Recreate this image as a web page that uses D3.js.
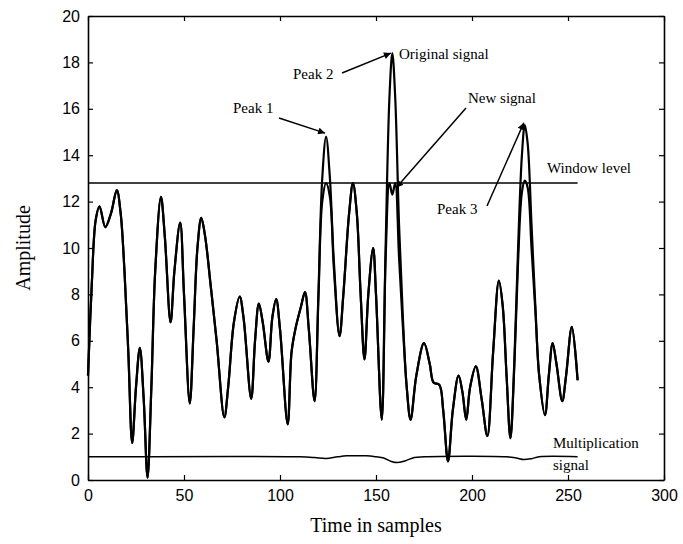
<!DOCTYPE html>
<html>
<head>
<meta charset="utf-8">
<script src="https://cdn.jsdelivr.net/npm/d3@7"></script>
<style>
  html, body { margin: 0; padding: 0; background: #fff; }
  svg { display: block; }
</style>
</head>
<body>
<svg id="chart" width="683" height="544"></svg>
<script>
// ---- data ----
const sampleT = [0,2,4,6,9,12,15,17,19,21,23,25,27,29,31,33,35,38,40,43,45,48,50,53,55,57,59,61,64,67,71,73,76,79,81,85,87,89,91,94,96,98,100,104,106,108,111,113,115,118,120,122,124,126,128,131,133,136,138,140,142,144,146,148.5,150,153,155,157,158.5,160,162,164,166,168,171,175,178,180,183,185,187.5,190,193,195,197,199,202,205,208,211,214,216,218,220,222,224,226,227.5,229,231,233,235,238,240,242,244,247,249,252,255];
const originalSignal = [4.5,8.5,11.2,11.8,10.9,11.5,12.5,11.5,9.0,5.5,1.6,4.0,5.7,3.5,0.1,4.0,9.0,12.2,10.5,6.8,9.0,11.1,8.0,3.3,6.5,10.0,11.3,10.5,8.3,6.0,2.7,4.0,6.8,7.9,7.0,3.5,6.0,7.6,6.8,5.1,7.0,7.8,6.5,2.4,5.5,6.5,7.5,8.1,6.5,3.4,8.0,13.0,14.8,13.0,9.5,6.2,8.0,11.5,12.8,11.5,8.0,5.2,8.0,10.0,8.0,2.6,10.0,16.5,18.4,16.5,11.0,7.0,4.0,2.6,4.5,5.9,5.0,4.2,4.1,3.0,0.8,3.0,4.5,3.8,2.6,4.0,4.9,3.5,1.9,5.5,8.6,7.5,4.5,1.8,5.0,10.0,14.0,15.3,14.5,11.0,7.5,4.5,2.8,4.5,5.9,5.0,3.4,4.5,6.6,4.3];
const newSignal = [4.5,8.5,11.2,11.8,10.9,11.5,12.5,11.5,9.0,5.5,1.6,4.0,5.7,3.5,0.1,4.0,9.0,12.2,10.5,6.8,9.0,11.1,8.0,3.3,6.5,10.0,11.3,10.5,8.3,6.0,2.7,4.0,6.8,7.9,7.0,3.5,6.0,7.6,6.8,5.1,7.0,7.8,6.5,2.4,5.5,6.5,7.5,8.1,6.5,3.4,7.8,12.0,12.8,12.2,9.2,6.2,8.0,11.5,12.8,11.5,8.0,5.2,8.0,10.0,8.0,2.6,9.5,12.8,12.3,12.8,9.6,6.6,4.0,2.6,4.5,5.9,5.0,4.2,4.1,3.0,0.8,3.0,4.5,3.8,2.6,4.0,4.9,3.5,1.9,5.5,8.6,7.5,4.5,1.8,4.8,9.4,12.4,12.9,12.6,10.0,7.3,4.5,2.8,4.5,5.9,5.0,3.4,4.5,6.6,4.3];
const multT = [0,110,118,124,130,135,145,150,154,158,161,165,170,175,218,223,227,231,235,255];
const multSignal = [1.0,1.0,0.97,0.93,1.0,1.04,1.04,1.0,0.95,0.8,0.75,0.82,0.97,1.0,1.0,0.95,0.88,0.92,1.0,1.0];
const windowT = [0,255];
const windowLevel = [12.8,12.8];
const xTicks = [0,50,100,150,200,250,300];
const yTicks = [0,2,4,6,8,10,12,14,16,18,20];

// ---- layout ----
const svg = d3.select("#chart");
const x = d3.scaleLinear().domain([0,300]).range([88,664]);
const y = d3.scaleLinear().domain([0,20]).range([480,16]);
const serif = "'Liberation Serif','Times New Roman',serif";
const sans = "'Liberation Sans',Arial,Helvetica,sans-serif";

svg.append("defs").append("marker")
  .attr("id","arr").attr("viewBox","0 0 10 10").attr("refX",10).attr("refY",5)
  .attr("markerWidth",9).attr("markerHeight",7).attr("orient","auto")
  .attr("markerUnits","userSpaceOnUse")
  .append("path").attr("d","M0,0 L10,5 L0,10 z").attr("fill","#000");

// axes (inward ticks on all four sides)
const axB = svg.append("g").attr("transform","translate(0,480)")
  .call(d3.axisBottom(x).tickValues(xTicks).tickSizeInner(-5).tickSizeOuter(0).tickPadding(10));
const axL = svg.append("g").attr("transform","translate(88,0)")
  .call(d3.axisLeft(y).tickValues(yTicks).tickSizeInner(-5).tickSizeOuter(0).tickPadding(8));
const axT = svg.append("g").attr("transform","translate(0,16)")
  .call(d3.axisTop(x).tickValues(xTicks).tickSizeInner(-5).tickSizeOuter(0).tickFormat(""));
const axR = svg.append("g").attr("transform","translate(664,0)")
  .call(d3.axisRight(y).tickValues(yTicks).tickSizeInner(-5).tickSizeOuter(0).tickFormat(""));
[axB,axL,axT,axR].forEach(a => {
  a.select(".domain").attr("stroke","#000").attr("stroke-width",1.6);
  a.selectAll(".tick line").attr("stroke","#000").attr("stroke-width",1.2);
  a.selectAll("text").attr("font-family",sans).attr("font-size",16).attr("fill","#000");
});
axB.selectAll("text").attr("dy","0.71em");

// lines
const line = (xs, ys) => d3.line()
  .x((d,i) => x(xs[i])).y((d,i) => y(ys[i]))
  .curve(d3.curveCatmullRom.alpha(0.5))(ys);

svg.append("path").attr("d", d3.line().x((d,i)=>x(windowT[i])).y(d=>y(d))(windowLevel))
  .attr("fill","none").attr("stroke","#000").attr("stroke-width",1.6);
svg.append("path").attr("d", line(multT, multSignal))
  .attr("fill","none").attr("stroke","#000").attr("stroke-width",1.5);
svg.append("path").attr("d", line(sampleT, newSignal))
  .attr("fill","none").attr("stroke","#000").attr("stroke-width",2.2).attr("stroke-linejoin","round");
svg.append("path").attr("d", line(sampleT, originalSignal))
  .attr("fill","none").attr("stroke","#000").attr("stroke-width",2.2).attr("stroke-linejoin","round");

// annotations
const ann = (t, xx, yy) => svg.append("text").attr("x",xx).attr("y",yy)
  .attr("font-family",serif).attr("font-size",15).attr("fill","#000").text(t);
ann("Peak 1", 233, 113);
ann("Peak 2", 293, 79);
ann("Original signal", 399, 59);
ann("New signal", 468, 103);
ann("Window level", 547, 173);
ann("Peak 3", 437, 214);
ann("Multiplication", 553, 448);
ann("signal", 553, 470);

const arrow = (x1,y1,x2,y2) => svg.append("line")
  .attr("x1",x1).attr("y1",y1).attr("x2",x2).attr("y2",y2)
  .attr("stroke","#000").attr("stroke-width",1.5).attr("marker-end","url(#arr)");
arrow(279,118, x(123.5), y(14.95));
arrow(342,73, x(157.8), y(18.4));
arrow(466,108, x(160.5), y(12.6));
arrow(487,206, x(227), y(15.4));

// axis titles
svg.append("text").attr("x",376).attr("y",532).attr("text-anchor","middle")
  .attr("font-family",serif).attr("font-size",20).attr("fill","#000").text("Time in samples");
svg.append("text").attr("transform","translate(30,248) rotate(-90)").attr("text-anchor","middle")
  .attr("font-family",serif).attr("font-size",20).attr("fill","#000").text("Amplitude");
</script>
</body>
</html>
